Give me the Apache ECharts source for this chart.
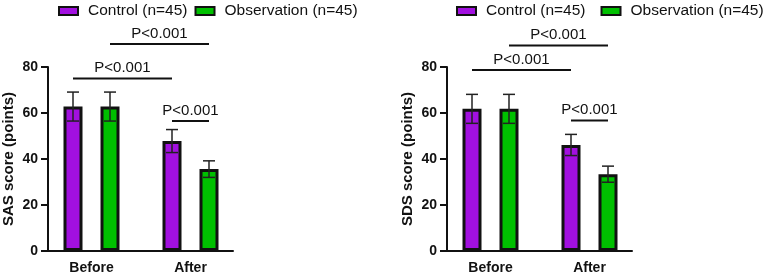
<!DOCTYPE html>
<html>
<head>
<meta charset="utf-8">
<script src="https://cdn.jsdelivr.net/npm/echarts@6/dist/echarts.min.js"></script>
<style>
  html, body { margin: 0; padding: 0; background: #fff; }
  #chart { width: 767px; height: 280px; }
</style>
</head>
<body>
<div id="chart"></div>
<script>
// 分类和数值
var categories = ["Before", "After"];
var groupNames = ["Control (n=45)", "Observation (n=45)"];
var yTicks = [0, 20, 40, 60, 80];

// SAS (left)
var sasControl = [62.8, 47.8];
var sasControlSd = [6.3, 5.0];
var sasObservation = [62.8, 35.6];
var sasObservationSd = [6.3, 3.6];
// [fromCat, fromGroup, toCat, toGroup, y, label]
var sasBrackets = [
  [0, 1, 1, 1, 90, "P<0.001"],
  [0, 0, 1, 0, 75, "P<0.001"],
  [1, 0, 1, 1, 56.5, "P<0.001"]
];

// SDS (right)
var sdsControl = [61.8, 46.1];
var sdsControlSd = [6.3, 4.6];
var sdsObservation = [61.8, 33.4];
var sdsObservationSd = [6.3, 3.5];
var sdsBrackets = [
  [0, 1, 1, 1, 89.3, "P<0.001"],
  [0, 0, 1, 0, 78.7, "P<0.001"],
  [1, 0, 1, 1, 56.7, "P<0.001"]
];

var colors = ["#a210e0", "#00c000"];
var barWidth = 19;
var barGapPx = 18;
var font = "'Liberation Sans', Arial, sans-serif";

function groupOffset(g) {
  return (g === 0 ? -1 : 1) * (barWidth + barGapPx) / 2;
}

// 误差线
function errorData(ctrl, ctrlSd, obs, obsSd) {
  var out = [];
  for (var i = 0; i < categories.length; i++) {
    out.push([i, ctrl[i], ctrlSd[i], 0]);
    out.push([i, obs[i], obsSd[i], 1]);
  }
  return out;
}

function renderError(params, api) {
  var cat = api.value(0), mean = api.value(1), sd = api.value(2), g = api.value(3);
  var top = api.coord([cat, mean + sd]);
  var bot = api.coord([cat, mean - sd]);
  var x = top[0] + groupOffset(g);
  var cap = 6;
  var style = { stroke: "#222", lineWidth: 1.5 };
  return {
    type: "group",
    children: [
      { type: "line", shape: { x1: x, y1: top[1], x2: x, y2: bot[1] }, style: style },
      { type: "line", shape: { x1: x - cap, y1: top[1], x2: x + cap, y2: top[1] }, style: style },
      { type: "line", shape: { x1: x - cap, y1: bot[1], x2: x + cap, y2: bot[1] }, style: style }
    ]
  };
}

// 显著性标注
function renderBracket(params, api) {
  var c1 = api.value(0), g1 = api.value(1), c2 = api.value(2), g2 = api.value(3), y = api.value(4);
  var label = api.value(5);
  var p1 = api.coord([c1, y]);
  var p2 = api.coord([c2, y]);
  var x1 = p1[0] + groupOffset(g1);
  var x2 = p2[0] + groupOffset(g2);
  return {
    type: "group",
    children: [
      { type: "line", shape: { x1: x1, y1: p1[1], x2: x2, y2: p1[1] }, style: { stroke: "#111", lineWidth: 2 } },
      {
        type: "text",
        x: (x1 + x2) / 2, y: p1[1] - 3,
        style: { text: label, fill: "#111", font: "15px " + font, textAlign: "center", textVerticalAlign: "bottom" }
      }
    ]
  };
}

function barSeries(name, data, idx, color) {
  return {
    name: name,
    type: "bar",
    xAxisIndex: idx,
    yAxisIndex: idx,
    data: data,
    barWidth: barWidth,
    barGap: (barGapPx / barWidth * 100) + "%",
    itemStyle: { color: color, borderColor: "#111", borderWidth: 3 },
    z: 2
  };
}

function makeY(idx, name) {
  return {
    type: "value",
    gridIndex: idx,
    min: 0, max: 80, interval: 20,
    offset: -6,
    name: name,
    nameLocation: "middle",
    nameGap: 32,
    nameTextStyle: { color: "#111", fontSize: 15, fontWeight: "bold", fontFamily: font },
    axisLine: { show: true, lineStyle: { color: "#111", width: 2 } },
    axisTick: { show: true, length: 7, lineStyle: { color: "#111", width: 2 } },
    axisLabel: {
      color: "#111", fontSize: 14, fontWeight: "bold", fontFamily: font, margin: 10,
      formatter: function (v) { return yTicks.indexOf(v) >= 0 ? String(v) : ""; }
    },
    splitLine: { show: false }
  };
}

function makeX(idx) {
  return {
    type: "category",
    gridIndex: idx,
    data: categories,
    axisLine: { show: false },
    axisTick: { alignWithLabel: true, length: 6, lineStyle: { color: "#111", width: 2 } },
    axisLabel: { color: "#111", fontSize: 14, fontWeight: "bold", fontFamily: font, margin: 10 }
  };
}

// 只画 x 轴线的辅助坐标系
function lineOnlyX(idx) {
  return {
    type: "category",
    gridIndex: idx,
    data: categories,
    axisLine: { show: true, lineStyle: { color: "#111", width: 2 } },
    axisTick: { show: false },
    axisLabel: { show: false }
  };
}
function hiddenY(idx) {
  return { type: "value", gridIndex: idx, min: 0, max: 80, show: false };
}

function makeLegend(left, gap) {
  return {
    left: left, top: 3,
    width: 340,
    padding: 0,
    data: groupNames,
    icon: "rect",
    itemWidth: 19, itemHeight: 8,
    itemGap: gap,
    itemStyle: { borderColor: "#111", borderWidth: 2 },
    formatter: "{t|{name}}",
    textStyle: {
      color: "#111", fontSize: 15.5, fontFamily: font,
      rich: { t: { fontSize: 15.5, fontFamily: font, color: "#111", padding: [0, 0, 0, 5] } }
    },
    selectedMode: false
  };
}

var myChart = echarts.init(document.getElementById("chart"), null, { renderer: "canvas" });
var option = {
  animation: false,
  textStyle: { fontFamily: font },
  legend: [makeLegend(58, 7), makeLegend(456, 15)],
  grid: [
    { left: 42, top: 67, width: 198, height: 184 },
    { left: 441, top: 67, width: 198, height: 184 },
    { left: 48, top: 67, width: 185, height: 184 },
    { left: 447, top: 67, width: 185, height: 184 }
  ],
  xAxis: [makeX(0), makeX(1), lineOnlyX(2), lineOnlyX(3)],
  yAxis: [makeY(0, "SAS score (points)"), makeY(1, "SDS score (points)"), hiddenY(2), hiddenY(3)],
  series: [
    barSeries(groupNames[0], sasControl, 0, colors[0]),
    barSeries(groupNames[1], sasObservation, 0, colors[1]),
    barSeries(groupNames[0], sdsControl, 1, colors[0]),
    barSeries(groupNames[1], sdsObservation, 1, colors[1]),
    {
      type: "custom", xAxisIndex: 0, yAxisIndex: 0, z: 5,
      renderItem: renderError,
      data: errorData(sasControl, sasControlSd, sasObservation, sasObservationSd)
    },
    {
      type: "custom", xAxisIndex: 1, yAxisIndex: 1, z: 5,
      renderItem: renderError,
      data: errorData(sdsControl, sdsControlSd, sdsObservation, sdsObservationSd)
    },
    {
      type: "custom", xAxisIndex: 0, yAxisIndex: 0, z: 5,
      renderItem: renderBracket,
      dimensions: ["c1", "g1", "c2", "g2", "y", { name: "label", type: "ordinal" }],
      data: sasBrackets
    },
    {
      type: "custom", xAxisIndex: 1, yAxisIndex: 1, z: 5,
      renderItem: renderBracket,
      dimensions: ["c1", "g1", "c2", "g2", "y", { name: "label", type: "ordinal" }],
      data: sdsBrackets
    }
  ]
};
myChart.setOption(option);
window.onresize = myChart.resize;
</script>
</body>
</html>
